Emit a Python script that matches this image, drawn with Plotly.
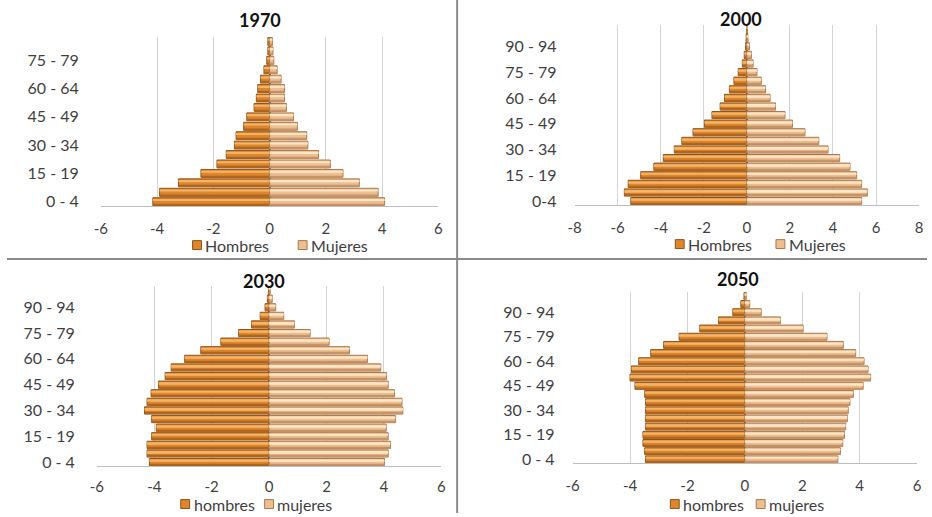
import plotly.graph_objects as go

# Age groups (bottom to top)
ages_18 = ["0 - 4", "5 - 9", "10 - 14", "15 - 19", "20 - 24", "25 - 29", "30 - 34",
           "35 - 39", "40 - 44", "45 - 49", "50 - 54", "55 - 59", "60 - 64",
           "65 - 69", "70 - 74", "75 - 79", "80 - 84", "85 +"]
ages_21 = ["0 - 4", "5 - 9", "10 - 14", "15 - 19", "20 - 24", "25 - 29", "30 - 34",
           "35 - 39", "40 - 44", "45 - 49", "50 - 54", "55 - 59", "60 - 64",
           "65 - 69", "70 - 74", "75 - 79", "80 - 84", "85 - 89", "90 - 94",
           "95 - 99", "100 +"]
ages_21b = ["0-4"] + ages_21[1:]

# Share of population (%) by sex; men on the negative side
h_1970 = [-4.15, -3.91, -3.24, -2.44, -1.87, -1.54, -1.25, -1.19, -0.92, -0.81,
          -0.55, -0.47, -0.42, -0.32, -0.20, -0.10, -0.06, -0.06]
m_1970 = [4.09, 3.86, 3.19, 2.61, 2.16, 1.74, 1.36, 1.32, 0.99, 0.85,
          0.60, 0.53, 0.53, 0.41, 0.27, 0.15, 0.12, 0.10]

h_2000 = [-5.39, -5.69, -5.51, -4.93, -4.32, -3.88, -3.37, -3.02, -2.50, -1.97,
          -1.62, -1.24, -1.04, -0.81, -0.60, -0.40, -0.21, -0.12, -0.06, -0.03, -0.01]
m_2000 = [5.33, 5.60, 5.33, 5.10, 4.79, 4.31, 3.77, 3.34, 2.70, 2.12,
          1.77, 1.33, 1.08, 0.87, 0.67, 0.47, 0.29, 0.21, 0.12, 0.05, 0.02]

h_2030 = [-4.17, -4.25, -4.25, -4.09, -3.93, -4.09, -4.34, -4.25, -4.11, -3.85,
          -3.62, -3.41, -2.94, -2.38, -1.68, -1.06, -0.61, -0.31, -0.14, -0.06, -0.02]
m_2030 = [4.02, 4.15, 4.23, 4.15, 4.08, 4.40, 4.66, 4.63, 4.37, 4.15,
          4.09, 3.89, 3.43, 2.80, 2.09, 1.43, 0.88, 0.51, 0.23, 0.11, 0.04]

h_2050 = [-3.46, -3.49, -3.55, -3.55, -3.46, -3.46, -3.46, -3.46, -3.49, -3.83,
          -4.00, -3.95, -3.70, -3.28, -2.83, -2.29, -1.57, -0.92, -0.42, -0.14, -0.03]
m_2050 = [3.24, 3.33, 3.41, 3.47, 3.51, 3.57, 3.60, 3.66, 3.78, 4.12,
          4.38, 4.29, 4.15, 3.86, 3.43, 2.86, 2.03, 1.24, 0.57, 0.17, 0.05]

# Axis ticks
ticks_6 = [-6, -4, -2, 0, 2, 4, 6]
ticklabels_6 = ["-6", "-4", "-2", "0", "2", "4", "6"]
ticks_8 = [-8, -6, -4, -2, 0, 2, 4, 6, 8]
ticklabels_8 = ["-8", "-6", "-4", "-2", "0", "2", "4", "6", "8"]

W, H = 932, 517
FONT = "Lato, 'Open Sans', sans-serif"
TXT = "#3f3f3f"

MEN = dict(fill="#DD862B", edge="#8F521A", shine="#F4B468", shade="#B0651F")
WOMEN = dict(fill="#EDBE90", edge="#AA784A", shine="#FDE6C8", shade="#C79469")

panels = [
    dict(title="1970", ages=ages_18, h=h_1970, m=m_1970, tv=ticks_6, tt=ticklabels_6, r=6,
         names=("Hombres", "Mujeres"), box=(95, 437, 37, 208), tpos=(256, 20),
         key=((200, 247), (307, 247)), ystand=21, xstand=9),
    dict(title="2000", ages=ages_21b, h=h_2000, m=m_2000, tv=ticks_8, tt=ticklabels_8, r=8,
         names=("Hombres", "Mujeres"), box=(575, 924, 25, 207), tpos=(744, 19),
         key=((689, 246), (791, 246)), ystand=17, xstand=9),
    dict(title="2030", ages=ages_21, h=h_2030, m=m_2030, tv=ticks_6, tt=ticklabels_6, r=6,
         names=("hombres", "mujeres"), box=(91, 440, 288, 470), tpos=(260, 283),
         key=((188, 508), (273, 508)), ystand=21, xstand=7),
    dict(title="2050", ages=ages_21, h=h_2050, m=m_2050, tv=ticks_6, tt=ticklabels_6, r=6,
         names=("hombres", "mujeres"), box=(573, 922, 294, 467), tpos=(741, 281),
         key=((684, 508), (771, 508)), ystand=17, xstand=9),
]

fig = go.Figure()
annotations = []
shapes = []
layout = {}

for i, p in enumerate(panels, start=1):
    sfx = "" if i == 1 else str(i)
    xa, ya = "x" + sfx, "y" + sfx
    for vals, name, col in ((p["h"], p["names"][0], MEN), (p["m"], p["names"][1], WOMEN)):
        # main bar with darker rim
        fig.add_trace(go.Bar(
            x=vals, y=p["ages"], orientation="h", name=name, width=0.84,
            marker=dict(color=col["fill"], line=dict(color=col["edge"], width=1)),
            xaxis=xa, yaxis=ya, showlegend=False, hoverinfo="x+y"))
        # bevel: light upper band and darker lower band
        fig.add_trace(go.Bar(
            x=vals, y=p["ages"], orientation="h", width=0.22, offset=0.07,
            marker=dict(color=col["shine"], line=dict(width=0)),
            xaxis=xa, yaxis=ya, showlegend=False, hoverinfo="skip"))
        fig.add_trace(go.Bar(
            x=vals, y=p["ages"], orientation="h", width=0.14, offset=-0.38,
            marker=dict(color=col["shade"], line=dict(width=0)),
            xaxis=xa, yaxis=ya, showlegend=False, hoverinfo="skip"))

    x0, x1, yt, yb = p["box"]
    n = len(p["ages"])
    layout["xaxis" + sfx] = dict(
        domain=[x0 / W, x1 / W], anchor=ya, range=[-p["r"] - 0.001, p["r"] + 0.001],
        tickvals=p["tv"], ticktext=p["tt"], showgrid=True, gridcolor="#d3d3d3",
        gridwidth=1, zeroline=True, zerolinecolor="#8a5a32", zerolinewidth=2,
        showline=True, linecolor="#bdbdbd", linewidth=1, ticks="",
        ticklabelstandoff=p["xstand"], tickfont=dict(size=15, color=TXT, family=FONT),
        fixedrange=True)
    layout["yaxis" + sfx] = dict(
        domain=[(H - yb) / H, (H - yt) / H], anchor=xa, type="category",
        categoryorder="array", categoryarray=p["ages"], range=[-0.5, n - 0.5],
        tickvals=p["ages"][::3], ticktext=p["ages"][::3], showgrid=False,
        zeroline=False, showline=False, ticks="", ticklabelstandoff=p["ystand"],
        tickfont=dict(size=16, color=TXT, family=FONT), fixedrange=True)

    # series key under each pyramid: swatch + label
    for (kx, ky), name, col in zip(p["key"], p["names"], (MEN, WOMEN)):
        shapes.append(dict(
            type="rect", xref="paper", yref="paper",
            x0=(kx - 12) / W, x1=(kx - 3) / W,
            y0=(H - ky - 4.5) / H, y1=(H - ky + 4.5) / H,
            fillcolor=col["fill"], line=dict(color=col["edge"], width=1)))
        annotations.append(dict(
            text=name, x=kx / W, y=(H - ky) / H, xref="paper", yref="paper",
            showarrow=False, xanchor="left", yanchor="middle", borderpad=0,
            font=dict(size=16, color=TXT, family=FONT)))

    tx, ty = p["tpos"]
    annotations.append(dict(
        text="<b>%s</b>" % p["title"], x=tx / W, y=(H - ty) / H, xref="paper",
        yref="paper", showarrow=False, xanchor="center", yanchor="middle",
        font=dict(size=18, color="#111111", family=FONT)))

# frame separating the four pyramids
shapes += [
    dict(type="line", xref="paper", yref="paper", x0=456 / W, x1=456 / W, y0=0, y1=1,
         line=dict(color="#8a8a8a", width=2)),
    dict(type="line", xref="paper", yref="paper", x0=0, x1=1,
         y0=(H - 261) / H, y1=(H - 261) / H, line=dict(color="#8a8a8a", width=2)),
]

fig.update_layout(
    width=W, height=H, margin=dict(l=0, r=0, t=0, b=0),
    paper_bgcolor="white", plot_bgcolor="white", barmode="overlay",
    font=dict(family=FONT, color=TXT), annotations=annotations, shapes=shapes,
    showlegend=False, **layout)

fig.write_html("out.html", config={"displayModeBar": False})
